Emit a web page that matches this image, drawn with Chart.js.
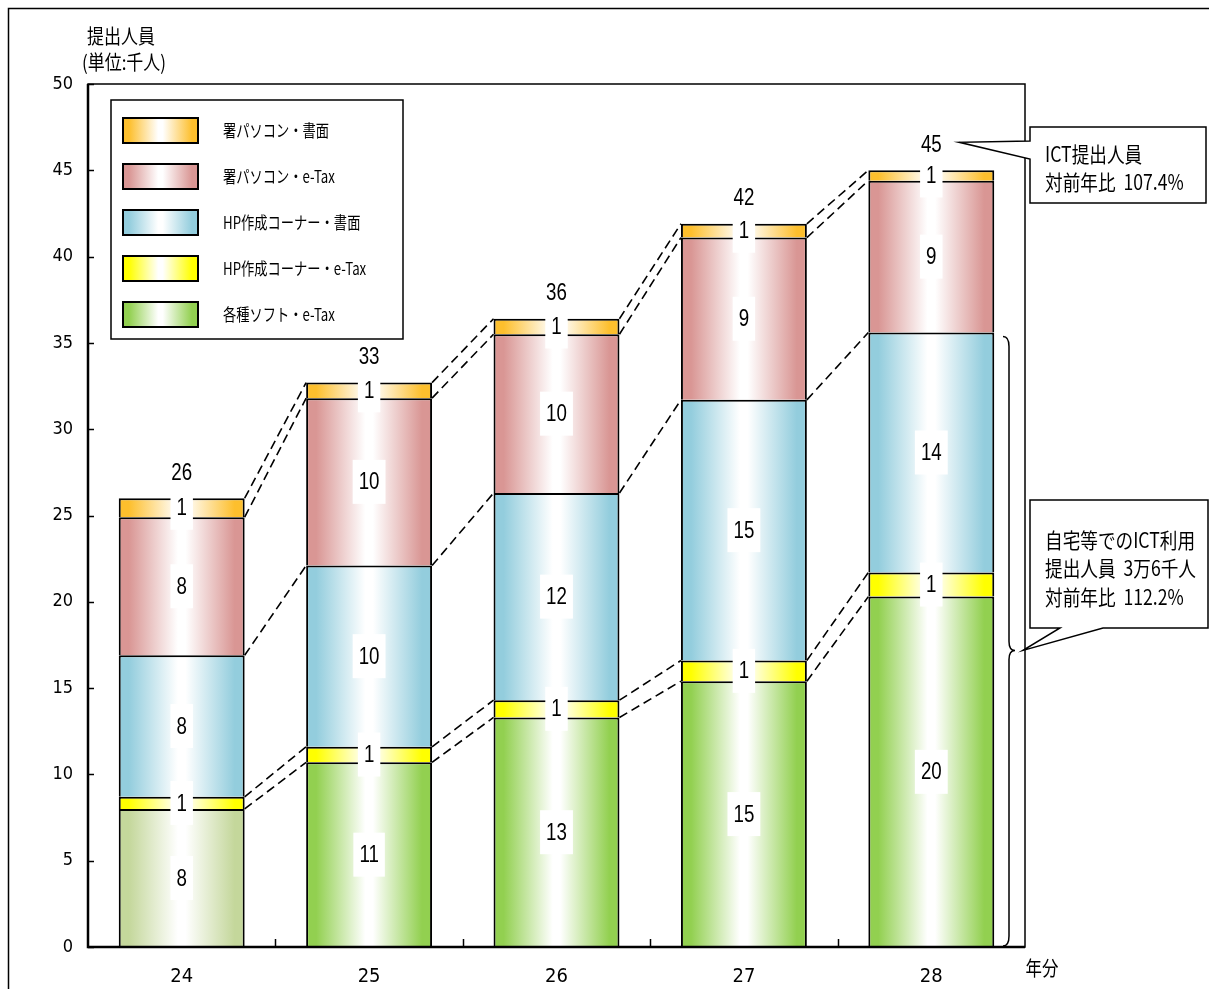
<!DOCTYPE html>
<html><head><meta charset="utf-8">
<script src="https://cdn.jsdelivr.net/npm/chart.js@4.4.1/dist/chart.umd.min.js"></script>
<style>html,body{margin:0;padding:0;background:#fff;overflow:hidden}canvas{display:block}</style>
</head><body>
<canvas id="c" width="1209" height="989" style="width:1209px;height:989px"></canvas>
<script>
// ---- data (thousand persons) ----
const categories = ['24', '25', '26', '27', '28'];
const softEtax   = [8.0, 10.7, 13.3, 15.4, 20.3];   // 各種ソフト・e-Tax
const hpEtax     = [0.7, 0.9, 1.0, 1.2, 1.4];       // HP作成コーナー・e-Tax
const hpPaper    = [8.2, 10.5, 12.0, 15.1, 13.9];   // HP作成コーナー・書面
const pcEtax     = [8.0, 9.7, 9.2, 9.4, 8.8];       // 署パソコン・e-Tax
const pcPaper    = [1.1, 0.9, 0.9, 0.8, 0.6];       // 署パソコン・書面
const softEtaxLabels = ['8', '11', '13', '15', '20'];
const hpEtaxLabels   = ['1', '1', '1', '1', '1'];
const hpPaperLabels  = ['8', '10', '12', '15', '14'];
const pcEtaxLabels   = ['8', '10', '10', '9', '9'];
const pcPaperLabels  = ['1', '1', '1', '1', '1'];
const totalLabels    = ['26', '33', '36', '42', '45'];
const seriesNames = ['各種ソフト・e-Tax', 'HP作成コーナー・e-Tax', 'HP作成コーナー・書面', '署パソコン・e-Tax', '署パソコン・書面'];
const yTitle = ['提出人員', '(単位:千人)'];
const xTitle = '年分';
const calloutIct = ['ICT提出人員', '対前年比  107.4%'];
const calloutHome = ['自宅等でのICT利用', '提出人員  3万6千人', '対前年比  112.2%'];
const yMin = 0, yMax = 50, yStep = 5;

// ---- styles ----
const COLORS = ['#92d050', '#ffff00', '#93cddd', '#d99694', '#fdbf2d'];
const FIRST_GREEN = '#c4d79b';
const BAR_PCT = 0.672;
const NUM_FONT = '"Liberation Sans Narrow", "DejaVu Sans Condensed", "Liberation Sans", sans-serif';
const LBL_FONT = '"Liberation Sans", "DejaVu Sans", sans-serif';
const JP_FONT = '"Noto Sans CJK JP", "Noto Sans", sans-serif';

const seriesValues = [softEtax, hpEtax, hpPaper, pcEtax, pcPaper];
const seriesLabels = [softEtaxLabels, hpEtaxLabels, hpPaperLabels, pcEtaxLabels, pcPaperLabels];

function grad(ctx, x0, x1, color) {
  const g = ctx.createLinearGradient(x0, 0, x1, 0);
  g.addColorStop(0, color);
  g.addColorStop(0.08, color);
  g.addColorStop(0.47, '#ffffff');
  g.addColorStop(0.53, '#ffffff');
  g.addColorStop(0.92, color);
  g.addColorStop(1, color);
  return g;
}
function baseColor(d, i) { return (d === 0 && i === 0) ? FIRST_GREEN : COLORS[d]; }

function scaledText(ctx, t, x, y, font, align, sx) {
  ctx.save();
  ctx.font = font;
  ctx.fillStyle = '#000';
  ctx.textBaseline = 'middle';
  ctx.textAlign = 'left';
  const w = ctx.measureText(t).width * sx;
  let x0 = x;
  if (align === 'center') x0 = x - w / 2; else if (align === 'right') x0 = x - w;
  ctx.translate(x0, y);
  ctx.scale(sx, 1);
  ctx.fillText(t, 0, 0);
  ctx.restore();
  return w;
}
function jpText(ctx, t, x, y, size, align, sx) {
  return scaledText(ctx, t, x, y, size + 'px ' + JP_FONT, align, sx);
}
function numWidth(ctx, t) {
  ctx.save(); ctx.font = '24px ' + LBL_FONT; const w = ctx.measureText(t).width * 0.78; ctx.restore(); return w;
}
function numText(ctx, t, x, y) {
  return scaledText(ctx, t, x, y, '24px ' + LBL_FONT, 'center', 0.78);
}

const datasets = seriesValues.map((vals, d) => ({
  label: seriesNames[d],
  data: vals,
  backgroundColor: (c) => {
    const base = baseColor(d, c.dataIndex);
    const chart = c.chart;
    const xs = chart.scales && chart.scales.x;
    if (c.type !== 'data' || !xs) return base;
    const cx = xs.getPixelForValue(c.dataIndex);
    const w = xs.width / categories.length * BAR_PCT;
    if (!isFinite(cx) || !isFinite(w) || w <= 0) return base;
    return grad(chart.ctx, cx - w / 2, cx + w / 2, base);
  },
  borderColor: '#000',
  borderWidth: 2,
  borderSkipped: 'start',
  categoryPercentage: 1,
  barPercentage: BAR_PCT
}));

const decor = {
  id: 'decor',
  afterDraw(chart) {
    const { ctx, chartArea: a, scales: { x, y } } = chart;
    const metas = datasets.map((_, d) => chart.getDatasetMeta(d));
    ctx.save();
    // connectors
    ctx.strokeStyle = '#000';
    ctx.lineWidth = 1.6;
    ctx.setLineDash([9, 5]);
    metas.forEach(m => {
      for (let i = 0; i < m.data.length - 1; i++) {
        const e0 = m.data[i], e1 = m.data[i + 1];
        ctx.beginPath();
        ctx.moveTo(e0.x + e0.width / 2, e0.y);
        ctx.lineTo(e1.x - e1.width / 2, e1.y);
        ctx.stroke();
      }
    });
    ctx.setLineDash([]);
    // value label boxes and text
    const items = [];
    metas.forEach((m, d) => {
      m.data.forEach((el, i) => {
        const t = seriesLabels[d][i];
        const cy = (el.y + el.base) / 2;
        const w = numWidth(ctx, t) + 12;
        items.push({ t, x: el.x, y: cy, w });
      });
    });
    ctx.fillStyle = '#fff';
    items.forEach(it => ctx.fillRect(it.x - it.w / 2, it.y - 22, it.w, 44));
    items.forEach(it => numText(ctx, it.t, it.x, it.y + 1));
    // totals
    const top = metas[metas.length - 1];
    top.data.forEach((el, i) => numText(ctx, totalLabels[i], el.x, el.y - 25));
    // plot frame / axes
    ctx.strokeStyle = '#000';
    ctx.lineWidth = 1.5;
    ctx.strokeRect(a.left, a.top, a.right - a.left, a.bottom - a.top);
    ctx.lineWidth = 2.5;
    ctx.beginPath();
    ctx.moveTo(a.left, a.top); ctx.lineTo(a.left, a.bottom); ctx.lineTo(a.right, a.bottom);
    ctx.stroke();
    ctx.lineWidth = 1.5;
    for (let v = yMin; v <= yMax; v += yStep) {
      const py = Math.round(y.getPixelForValue(v)) + 0.5;
      ctx.beginPath(); ctx.moveTo(a.left, py); ctx.lineTo(a.left + 6, py); ctx.stroke();
    }
    const cw = (a.right - a.left) / categories.length;
    for (let k = 1; k < categories.length; k++) {
      const px = Math.round(a.left + cw * k) + 0.5;
      ctx.beginPath(); ctx.moveTo(px, a.bottom); ctx.lineTo(px, a.bottom - 8); ctx.stroke();
    }
    // legend
    ctx.lineWidth = 1.5;
    ctx.strokeRect(111, 100, 292, 239);
    for (let r = 0; r < datasets.length; r++) {
      const d = datasets.length - 1 - r;
      const ry = 118 + r * 46;
      ctx.fillStyle = grad(ctx, 123, 198, COLORS[d]);
      ctx.fillRect(123, ry, 75, 25);
      ctx.lineWidth = 2;
      ctx.strokeRect(123, ry, 75, 25);
      jpText(ctx, seriesNames[d], 223, ry + 13, 17, 'left', 0.78);
    }
    // titles
    jpText(ctx, yTitle[0], 121, 36, 20, 'center', 0.85);
    jpText(ctx, yTitle[1], 124, 62, 20, 'center', 0.85);
    jpText(ctx, xTitle, 1042, 968, 20, 'center', 0.82);
    // ICT callout
    const last = top.data[top.data.length - 1];
    const tipX = last.x + 28, tipY = last.y - 28;
    ctx.fillStyle = '#fff';
    ctx.lineWidth = 1.5;
    ctx.beginPath();
    ctx.moveTo(1030, 127); ctx.lineTo(1206, 127); ctx.lineTo(1206, 203); ctx.lineTo(1030, 203);
    ctx.lineTo(1030, 159); ctx.lineTo(tipX, tipY); ctx.lineTo(1030, 141); ctx.closePath();
    ctx.fill(); ctx.stroke();
    jpText(ctx, calloutIct[0], 1045, 154, 21, 'left', 0.84);
    jpText(ctx, calloutIct[1], 1045, 182, 21, 'left', 0.84);
    // brace
    const hpTop = metas[2].data[metas[2].data.length - 1];
    const yT = hpTop.y + 4, yB = a.bottom - 1, yM = yT + (yB - yT) * 0.515;
    const bx = 1009;
    ctx.lineWidth = 1.5;
    ctx.beginPath();
    ctx.moveTo(1003, yT);
    ctx.quadraticCurveTo(bx, yT, bx, yT + 10);
    ctx.lineTo(bx, yM - 9);
    ctx.quadraticCurveTo(bx, yM, bx + 6, yM);
    ctx.quadraticCurveTo(bx, yM, bx, yM + 9);
    ctx.lineTo(bx, yB - 10);
    ctx.quadraticCurveTo(bx, yB, 1003, yB);
    ctx.stroke();
    // home callout
    ctx.fillStyle = '#fff';
    ctx.beginPath();
    ctx.moveTo(1030, 500); ctx.lineTo(1208, 500); ctx.lineTo(1208, 628); ctx.lineTo(1103, 628);
    ctx.lineTo(bx + 14, yM); ctx.lineTo(1060, 628); ctx.lineTo(1030, 628); ctx.closePath();
    ctx.fill(); ctx.stroke();
    jpText(ctx, calloutHome[0], 1045, 540, 21, 'left', 0.84);
    jpText(ctx, calloutHome[1], 1045, 568, 21, 'left', 0.84);
    jpText(ctx, calloutHome[2], 1045, 597, 21, 'left', 0.84);
    // outer frame
    ctx.lineWidth = 1.5;
    ctx.strokeRect(8.5, 8.5, 1400, 1200);
    ctx.restore();
  }
};

new Chart(document.getElementById('c'), {
  type: 'bar',
  data: { labels: categories, datasets },
  options: {
    responsive: false,
    animation: false,
    devicePixelRatio: 1,
    layout: { padding: { left: 0, right: 184, top: 84, bottom: 0 } },
    plugins: { legend: { display: false }, tooltip: { enabled: false } },
    scales: {
      x: {
        stacked: true,
        grid: { display: false, drawTicks: false },
        border: { display: false },
        ticks: { color: '#000', font: { family: NUM_FONT, size: 20 }, padding: 18 },
        afterFit(s) { s.height = 42; }
      },
      y: {
        stacked: true,
        min: yMin, max: yMax,
        grid: { display: false, drawTicks: false },
        border: { display: false },
        ticks: { stepSize: yStep, color: '#000', font: { family: NUM_FONT, size: 18 }, padding: 15 },
        afterFit(s) { s.width = 88; }
      }
    }
  },
  plugins: [decor]
});
</script>
</body></html>
